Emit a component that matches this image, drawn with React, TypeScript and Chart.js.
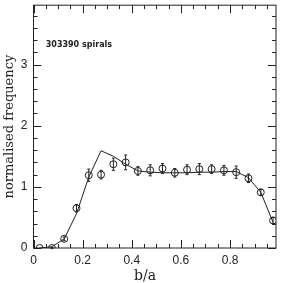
import React, { useEffect, useRef } from "react";
import { Chart, registerables } from "chart.js";

Chart.register(...registerables);

const binCenters = [0.025, 0.075, 0.125, 0.175, 0.225, 0.275, 0.325, 0.375, 0.425, 0.475, 0.525, 0.575, 0.625, 0.675, 0.725, 0.775, 0.825, 0.875, 0.925, 0.975];
const observed = [0.0, 0.0, 0.15, 0.65, 1.19, 1.2, 1.37, 1.4, 1.26, 1.27, 1.3, 1.23, 1.28, 1.29, 1.29, 1.27, 1.24, 1.14, 0.91, 0.45];
const errors = [0.0, 0.01, 0.03, 0.06, 0.1, 0.07, 0.1, 0.12, 0.07, 0.09, 0.08, 0.07, 0.08, 0.09, 0.07, 0.08, 0.1, 0.07, 0.05, 0.05];
const model = [0.0, 0.02, 0.15, 0.56, 1.16, 1.59, 1.5, 1.37, 1.26, 1.24, 1.23, 1.23, 1.23, 1.24, 1.24, 1.25, 1.25, 1.15, 0.91, 0.42];
const xTicks = [0, 0.2, 0.4, 0.6, 0.8];
const yTicks = [0, 1, 2, 3];
const annotation = "303390 spirals";
const xTitle = "b/a";
const yTitle = "normalised frequency";

const X_MIN = 0, X_MAX = 0.987, Y_MIN = 0, Y_MAX = 3.97;

const framePlugin = {
  id: "frame",
  afterDatasetsDraw(chart: any) {
    const { ctx, chartArea: a, scales } = chart;
    const xs = scales.x, ys = scales.y;
    ctx.save();
    ctx.strokeStyle = "#222";
    ctx.lineWidth = 1;
    ctx.strokeRect(a.left, a.top, a.right - a.left, a.bottom - a.top);
    ctx.beginPath();
    binCenters.forEach((x, i) => {
      const e = errors[i];
      if (e <= 0) return;
      const px = xs.getPixelForValue(x);
      const y1 = ys.getPixelForValue(observed[i] - e);
      const y2 = ys.getPixelForValue(observed[i] + e);
      ctx.moveTo(px, y1);
      ctx.lineTo(px, y2);
      ctx.moveTo(px - 1.5, y1);
      ctx.lineTo(px + 1.5, y1);
      ctx.moveTo(px - 1.5, y2);
      ctx.lineTo(px + 1.5, y2);
    });
    ctx.stroke();
    ctx.beginPath();
    for (let k = 0; k * 0.05 <= X_MAX + 1e-9; k++) {
      const v = k * 0.05;
      const px = Math.round(xs.getPixelForValue(v)) + 0.5;
      const len = k % 4 === 0 ? 8 : 4;
      ctx.moveTo(px, a.bottom);
      ctx.lineTo(px, a.bottom - len);
      ctx.moveTo(px, a.top);
      ctx.lineTo(px, a.top + len);
    }
    for (let k = 0; k * 0.2 <= Y_MAX + 1e-9; k++) {
      const v = k * 0.2;
      const py = Math.round(ys.getPixelForValue(v)) + 0.5;
      const len = k % 5 === 0 ? 8 : 4;
      ctx.moveTo(a.left, py);
      ctx.lineTo(a.left + len, py);
      ctx.moveTo(a.right, py);
      ctx.lineTo(a.right - len, py);
    }
    ctx.stroke();
    ctx.fillStyle = "#222";
    ctx.font = "bold 8px 'DejaVu Sans', sans-serif";
    ctx.textAlign = "left";
    ctx.textBaseline = "middle";
    ctx.fillText(annotation, xs.getPixelForValue(0.05), ys.getPixelForValue(3.32));
    ctx.font = "14px 'DejaVu Serif', serif";
    ctx.textAlign = "center";
    ctx.fillText(xTitle, 145, 276);
    ctx.save();
    ctx.translate(10, (a.top + a.bottom) / 2);
    ctx.rotate(-Math.PI / 2);
    ctx.font = "13px 'DejaVu Serif', serif";
    ctx.fillText(yTitle, 0, 0);
    ctx.restore();
    ctx.restore();
  },
};

export default function App() {
  const ref = useRef<HTMLCanvasElement | null>(null);
  useEffect(() => {
    if (!ref.current) return;
    const chart = new Chart(ref.current, {
      type: "scatter",
      data: {
        datasets: [
          {
            type: "line",
            data: binCenters.map((x, i) => ({ x, y: model[i] })),
            borderColor: "#222",
            borderWidth: 1,
            pointRadius: 0,
            tension: 0,
            fill: false,
          } as any,
          {
            data: binCenters.map((x, i) => ({ x, y: observed[i] })),
            pointStyle: "circle",
            pointRadius: 3.5,
            borderColor: "#222",
            borderWidth: 1,
            backgroundColor: "rgba(0,0,0,0)",
          },
        ],
      },
      options: {
        animation: false,
        responsive: false,
        devicePixelRatio: 1,
        layout: { padding: { top: 5, right: 7, left: 0, bottom: 0 } },
        plugins: { legend: { display: false }, tooltip: { enabled: false } },
        scales: {
          x: {
            type: "linear",
            min: X_MIN,
            max: X_MAX,
            grid: { display: false },
            border: { display: false },
            afterFit: (s: any) => { s.height = 35; },
            afterBuildTicks: (s: any) => { s.ticks = xTicks.map((v) => ({ value: v })); },
            ticks: {
              color: "#222",
              padding: -3,
              maxRotation: 0,
              font: { family: "'Liberation Sans', Arial, sans-serif", size: 12 },
              callback: (v: any) => String(v),
            },
          },
          y: {
            type: "linear",
            min: Y_MIN,
            max: Y_MAX,
            grid: { display: false },
            border: { display: false },
            afterFit: (s: any) => { s.width = 33.5; },
            afterBuildTicks: (s: any) => { s.ticks = yTicks.map((v) => ({ value: v })); },
            ticks: {
              color: "#222",
              padding: -2,
              font: { family: "'Liberation Sans', Arial, sans-serif", size: 12 },
              callback: (v: any) => String(v),
            },
          },
        },
      },
      plugins: [framePlugin],
    });
    return () => chart.destroy();
  }, []);
  return (
    <div style={{ position: "absolute", left: 0, top: 0, width: 283, height: 283, background: "#fff" }}>
      <canvas ref={ref} width={283} height={283} style={{ width: 283, height: 283 }} />
    </div>
  );
}
